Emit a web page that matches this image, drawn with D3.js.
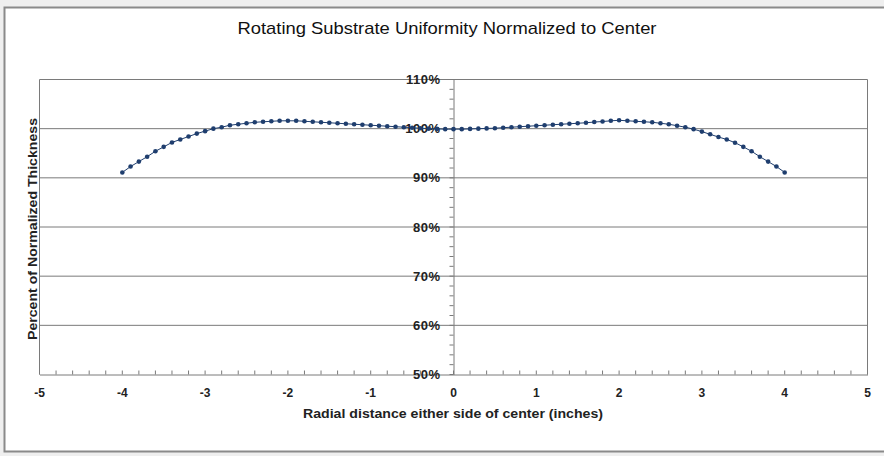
<!DOCTYPE html>
<html><head><meta charset="utf-8">
<script src="https://cdn.jsdelivr.net/npm/d3@7"></script>
<style>html,body{margin:0;padding:0;background:#fff;}svg{display:block;}</style>
</head><body>
<script>
const title = "Rotating Substrate Uniformity Normalized to Center";
const xLabel = "Radial distance either side of center (inches)";
const yLabel = "Percent of Normalized Thickness";
const xTicks = [-5,-4,-3,-2,-1,0,1,2,3,4,5];
const yTicks = [50,60,70,80,90,100,110];
const radius = [-4.0,-3.9,-3.8,-3.7,-3.6,-3.5,-3.4,-3.3,-3.2,-3.1,-3.0,-2.9,-2.8,-2.7,-2.6,-2.5,-2.4,-2.3,-2.2,-2.1,
  -2.0,-1.9,-1.8,-1.7,-1.6,-1.5,-1.4,-1.3,-1.2,-1.1,-1.0,-0.9,-0.8,-0.7,-0.6,-0.5,-0.4,-0.3,-0.2,-0.1,
  0.0,0.1,0.2,0.3,0.4,0.5,0.6,0.7,0.8,0.9,1.0,1.1,1.2,1.3,1.4,1.5,1.6,1.7,1.8,1.9,
  2.0,2.1,2.2,2.3,2.4,2.5,2.6,2.7,2.8,2.9,3.0,3.1,3.2,3.3,3.4,3.5,3.6,3.7,3.8,3.9,4.0];
const thickness = [91.1,92.3,93.3,94.3,95.4,96.3,97.2,97.8,98.4,99.0,99.5,100.0,100.3,100.7,100.9,101.1,101.3,101.4,101.5,101.6,
  101.6,101.6,101.5,101.4,101.3,101.2,101.1,101.0,100.9,100.8,100.7,100.6,100.5,100.4,100.3,100.2,100.1,100.0,99.95,99.9,
  99.9,99.9,99.95,100.0,100.05,100.1,100.2,100.3,100.4,100.5,100.6,100.7,100.8,100.9,101.0,101.1,101.2,101.35,101.45,101.6,
  101.7,101.6,101.5,101.4,101.3,101.1,100.9,100.6,100.3,99.9,99.4,98.85,98.3,97.8,97.15,96.3,95.4,94.3,93.3,92.3,91.1];

const W = 884, H = 456;
const font = "Liberation Sans, Arial, sans-serif";
const svg = d3.select("body").append("svg").attr("width", W).attr("height", H);
svg.append("rect").attr("width", W).attr("height", H).attr("fill", "#efefef");
svg.append("rect").attr("x", 4).attr("y", 7).attr("width", W - 4).attr("height", 445).attr("fill", "#fff");
svg.append("path").attr("d", `M${W},7.5 H4.5 V451.5 H${W}`).attr("fill", "none").attr("stroke", "#8a8a8a").attr("stroke-width", 2);

const x = d3.scaleLinear().domain([-5, 5]).range([39.5, 867.5]);
const y = d3.scaleLinear().domain([50, 110]).range([374.5, 79.5]);

svg.append("line").attr("x1", x(-5)).attr("x2", x(-5)).attr("y1", y(110)).attr("y2", y(50)).attr("stroke", "#7a7a7a");
svg.append("line").attr("x1", x(5)).attr("x2", x(5)).attr("y1", y(110)).attr("y2", y(50)).attr("stroke", "#7a7a7a");

svg.append("g").selectAll("line").data(yTicks.filter(d => d > 50)).join("line")
  .attr("x1", x(-5)).attr("x2", x(5)).attr("y1", d => y(d)).attr("y2", d => y(d))
  .attr("stroke", "#7a7a7a").attr("stroke-width", 1);

// x axis at 50%
const xMinor = d3.range(-50, 51, 2).map(d => d / 10);
const gx = svg.append("g").attr("transform", `translate(0,${y(50)})`);
gx.call(d3.axisBottom(x).tickValues(xMinor).tickSize(0).tickFormat(""));
gx.select(".domain").attr("stroke", "#7a7a7a");
gx.selectAll(".tickm").data(xMinor).join("line")
  .attr("x1", d => x(d)).attr("x2", d => x(d)).attr("y1", -4).attr("y2", 0)
  .attr("stroke", "#7a7a7a");
gx.selectAll(".lbl").data(xTicks).join("text")
  .attr("x", d => x(d)).attr("y", 22)
  .attr("text-anchor", "middle")
  .attr("font-family", font).attr("font-size", 12).attr("font-weight", "bold")
  .attr("fill", "#222").text(d => d);

// y axis at x=0
const yMinor = d3.range(50, 111, 2);
const gy = svg.append("g").attr("transform", `translate(${x(0)},0)`);
gy.call(d3.axisLeft(y).tickValues(yMinor).tickSize(0).tickFormat(""));
gy.select(".domain").attr("stroke", "#7a7a7a");
gy.selectAll(".tickm").data(yMinor).join("line")
  .attr("x1", -4).attr("x2", 0).attr("y1", d => y(d)).attr("y2", d => y(d))
  .attr("stroke", "#7a7a7a");
gy.selectAll(".lbl").data(yTicks).join("text")
  .attr("x", -13).attr("y", d => y(d)).attr("dy", "0.35em")
  .attr("text-anchor", "end")
  .attr("font-family", font).attr("font-size", 13).attr("font-weight", "bold")
  .attr("letter-spacing", 0.5)
  .attr("fill", "#222").text(d => d + "%");

// series
const pts = radius.map((r, i) => [r, thickness[i]]);
svg.append("path").datum(pts)
  .attr("d", d3.line().x(d => x(d[0])).y(d => y(d[1])))
  .attr("fill", "none").attr("stroke", "#1f3e6e").attr("stroke-width", 1);
svg.append("g").selectAll("circle").data(pts).join("circle")
  .attr("cx", d => x(d[0])).attr("cy", d => y(d[1])).attr("r", 2.3)
  .attr("fill", "#1f3e6e");

// title
svg.append("text").attr("x", 447).attr("y", 34).attr("text-anchor", "middle")
  .attr("font-family", font).attr("font-size", 17)
  .attr("textLength", 419).attr("lengthAdjust", "spacingAndGlyphs")
  .attr("fill", "#111").text(title);

// axis titles
svg.append("text").attr("x", 453).attr("y", 418).attr("text-anchor", "middle")
  .attr("font-family", font).attr("font-size", 12.5).attr("font-weight", "bold")
  .attr("textLength", 300).attr("lengthAdjust", "spacingAndGlyphs")
  .attr("fill", "#222").text(xLabel);
svg.append("text").attr("transform", "translate(37,229) rotate(-90)").attr("text-anchor", "middle")
  .attr("font-family", font).attr("font-size", 12.5).attr("font-weight", "bold")
  .attr("textLength", 222).attr("lengthAdjust", "spacingAndGlyphs")
  .attr("fill", "#222").text(yLabel);
</script>
</body></html>
